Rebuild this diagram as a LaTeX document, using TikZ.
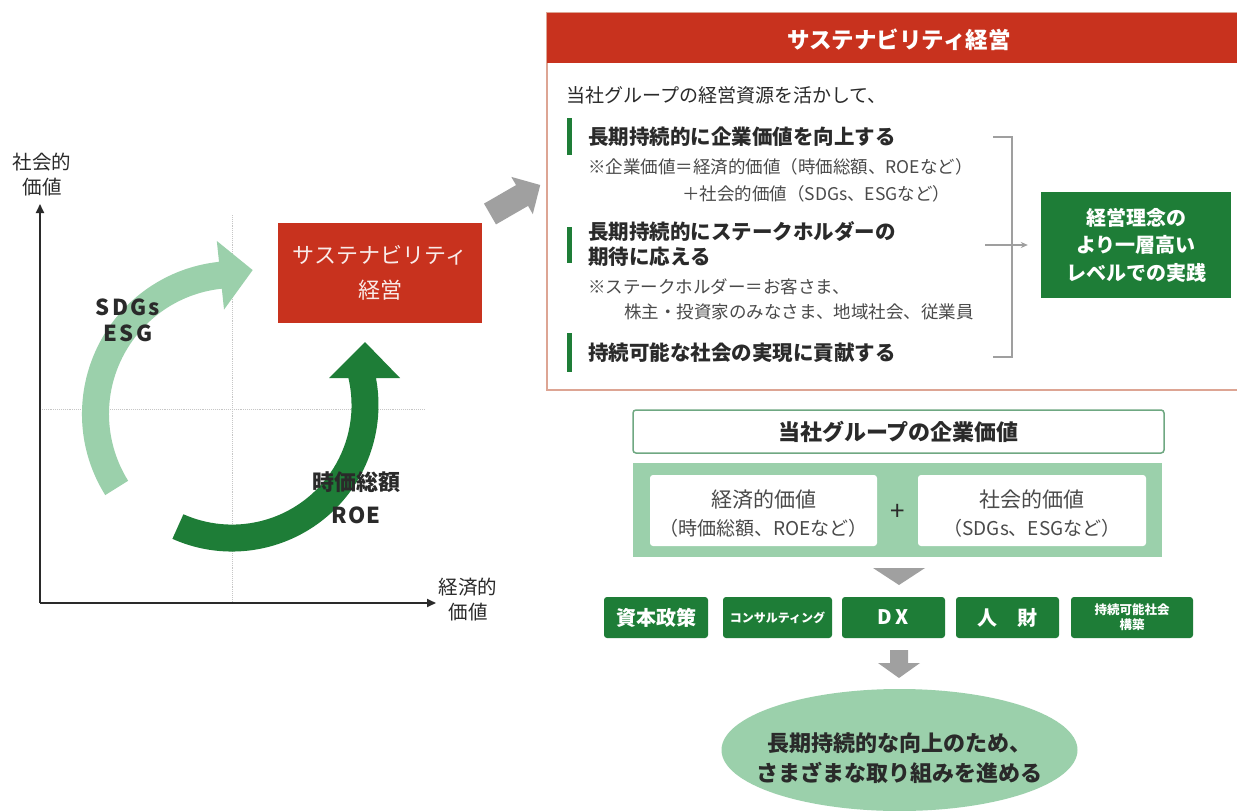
\documentclass[tikz,border=0pt]{standalone}
\usepackage{fontspec}
\setmainfont{Noto Sans CJK JP}
\usetikzlibrary{arrows.meta,calc,shapes.geometric}
\newcommand{\fsz}[2]{\fontsize{#1pt}{#2pt}\selectfont}
\definecolor{redm}{HTML}{C8321E}
\definecolor{dgreen}{HTML}{1E7D37}
\definecolor{lgreen}{HTML}{9BD0AB}
\definecolor{mgreen}{HTML}{6FA882}
\definecolor{txtc}{HTML}{2A2A2A}
\definecolor{notec}{HTML}{4A4A4A}
\definecolor{garrow}{HTML}{A0A0A0}
\definecolor{pborder}{HTML}{DDA594}
\tikzset{
  lbl/.style={inner sep=0pt, text=txtc},
  lft/.style={lbl, anchor=west},
  bold20/.style={lft, font=\fsz{20.5}{24}\bfseries},
  note17/.style={lft, text=notec, font=\fsz{17.5}{20}},
  bar/.style={fill=dgreen},
  btn/.style={fill=dgreen, rounded corners=3pt, minimum height=41pt, text=white, inner sep=0pt, align=center},
  wbox/.style={fill=white, rounded corners=3pt, minimum height=71pt, inner sep=0pt},
  guide/.style={gray!45, densely dotted, line width=0.9pt},
  axis/.style={txtc, line width=1.8pt, -{Triangle[length=9pt,width=8pt]}},
  brk/.style={gray!75, line width=1.5pt}
}
\begin{document}
\begin{tikzpicture}[x=1pt,y=-1pt]
\useasboundingbox (0,0) rectangle (1237,811);
\clip (0,0) rectangle (1237,811);
\fill[white] (0,0) rectangle (1237,811);

% ---------- left chart ----------
\draw[guide] (232,215) -- (232,603);
\draw[guide] (40,409) -- (425,409);
\coordinate (O) at (40,603);
\coordinate (ytop) at (40,204);
\coordinate (xend) at (436,603);
\draw[axis] (O) -- (ytop);
\draw[axis] (O) -- (xend);
\node[lbl, font=\fsz{19.5}{25}, align=center] (ylab) at (42,175) {社会的\\価値};
\node[lbl, font=\fsz{19.5}{25}, align=center] (xlab) at (468,600) {経済的\\価値};

% light arc arrow
\coordinate (c1) at (235,414);
\fill[lgreen] ($(c1)+(212:153pt)$) arc[start angle=212, end angle=96, radius=153pt]
  -- ($(c1)+(96:174pt)$) -- ($(c1)+(83:145pt)$) -- ($(c1)+(96:105pt)$)
  -- ($(c1)+(96:126pt)$) arc[start angle=96, end angle=212, radius=126pt] -- cycle;
% dark arc arrow
\coordinate (c2) at (232,405);
\fill[dgreen] ($(c2)+(246:146.5pt)$) arc[start angle=246, end angle=370.6, radius=146.5pt]
  -- (400,378) -- (365,342) -- (329,378) -- (348.4,378)
  arc[start angle=373.1, end angle=246, radius=119.5pt] -- cycle;

\node[lbl, font=\fsz{22}{26}\bfseries\addfontfeature{LetterSpace=10}, align=center] (sdg) at (128,320) {SDGs\\ESG};
\node[lbl, font=\fsz{22}{33}\bfseries, align=center] (roe) at (356,498) {時価総額\\\addfontfeature{LetterSpace=6}ROE};

\node[fill=redm, minimum width=204pt, minimum height=100pt, inner sep=0pt,
      text=white!90!redm, font=\fsz{22}{35}, align=center] (sb) at (380,273) {サステナビリティ\\経営};

% gray block arrow
\begin{scope}[shift={(490,214)}, rotate=30]
  \fill[garrow] (0,-12) -- (37,-12) -- (37,-21.5) -- (58,0) -- (37,21.5) -- (37,12) -- (0,12) -- cycle;
\end{scope}

% ---------- right panel ----------
\draw[pborder, line width=1.3pt] (547,13) rectangle (1250,390);
\fill[redm] (547,13) rectangle (1250,63);
\node[lbl, text=white, font=\fsz{22.5}{26}\bfseries] (hdr) at (899,40) {サステナビリティ経営};

\node[lft, font=\fsz{19}{22}] (intro) at (566,95) {当社グループの経営資源を活かして、};

\fill[bar] (567,118) rectangle (572,155);
\fill[bar] (567,227) rectangle (572,263);
\fill[bar] (567,333) rectangle (572,372);

\node[bold20] (b1) at (588,137) {長期持続的に企業価値を向上する};
\node[note17] (n1) at (588,167) {※企業価値＝経済的価値（時価総額、ROEなど）};
\node[note17] (n1b) at (682,194) {＋社会的価値（SDGs、ESGなど）};
\node[bold20] (b2) at (588,232) {長期持続的にステークホルダーの};
\node[bold20] (b2b) at (588,257) {期待に応える};
\node[note17] (n2) at (588,287) {※ステークホルダー＝お客さま、};
\node[note17] (n2b) at (624,312) {株主・投資家のみなさま、地域社会、従業員};
\node[bold20] (b3) at (588,353) {持続可能な社会の実現に貢献する};

\draw[brk] (993,137) -- (1012,137) -- (1012,357) -- (993,357);

\node[fill=dgreen, minimum width=190pt, minimum height=106pt, inner sep=0pt, text=white,
      font=\fsz{20}{27.5}\bfseries, align=center] (goal) at (1136,245) {経営理念の\\より一層高い\\レベルでの実践};
\coordinate (arrS) at (985,245);
\draw[brk, -{Stealth[length=7pt,width=6pt]}, shorten >=13pt] (arrS) -- (goal.west);

% ---------- bottom section ----------
\node[draw=mgreen, line width=1.5pt, fill=white, rounded corners=3pt, minimum width=531pt,
      minimum height=43pt, inner sep=0pt, text=txtc, font=\fsz{22}{24}\bfseries] (vtitle) at (898.5,431.5) {当社グループの企業価値};
\node[fill=lgreen, minimum width=529pt, minimum height=94pt, inner sep=0pt] (vpanel) at (897.5,510) {};
\node[wbox, minimum width=227pt] (econ) at (763.5,510.5) {};
\node[wbox, minimum width=228pt] (soc) at (1032,510.5) {};
\node[lbl, text=notec, font=\fsz{21}{24}] (econ1) at ($(econ.center)+(0,-10.5)$) {経済的価値};
\node[lbl, text=notec, font=\fsz{19}{22}] (econ2) at ($(econ.center)+(0,17.5)$) {（時価総額、ROEなど）};
\node[lbl, text=notec, font=\fsz{21}{24}] (soc1) at ($(soc.center)+(0,-10.5)$) {社会的価値};
\node[lbl, text=notec, font=\fsz{19}{22}] (soc2) at ($(soc.center)+(0,17.5)$) {（SDGs、ESGなど）};
\node[lbl, font=\fsz{26}{28}] (plus) at (898,512) {+};

\fill[garrow] (873,568) -- (925,568) -- (899,585) -- cycle;

\node[btn, minimum width=104pt, font=\fsz{20}{24}\bfseries] (p1) at (656,617.5) {資本政策};
\node[btn, minimum width=109pt, font=\fsz{12}{14}\bfseries] (p2) at (777.5,617.5) {コンサルティング};
\node[btn, minimum width=103pt, font=\fsz{20}{24}\bfseries\addfontfeature{LetterSpace=20}] (p3) at (893.5,617.5) {DX};
\node[btn, minimum width=103pt, font=\fsz{20}{24}\bfseries] (p4) at (1007.5,617.5) {人　財};
\node[btn, minimum width=122pt, font=\fsz{12.5}{15}\bfseries] (p5) at (1132,617.5) {持続可能社会\\構築};

\fill[garrow] (890,650) -- (908,650) -- (908,663) -- (920,663) -- (899,678) -- (878,663) -- (890,663) -- cycle;

\node[ellipse, fill=lgreen, minimum width=356pt, minimum height=122pt, inner sep=0pt] (fin) at (899.5,750) {};
\node[lbl, font=\fsz{22}{30}\bfseries, align=center] (fintext) at ($(fin.center)+(0,8)$) {長期持続的な向上のため、\\さまざまな取り組みを進める};
\end{tikzpicture}
\end{document}
